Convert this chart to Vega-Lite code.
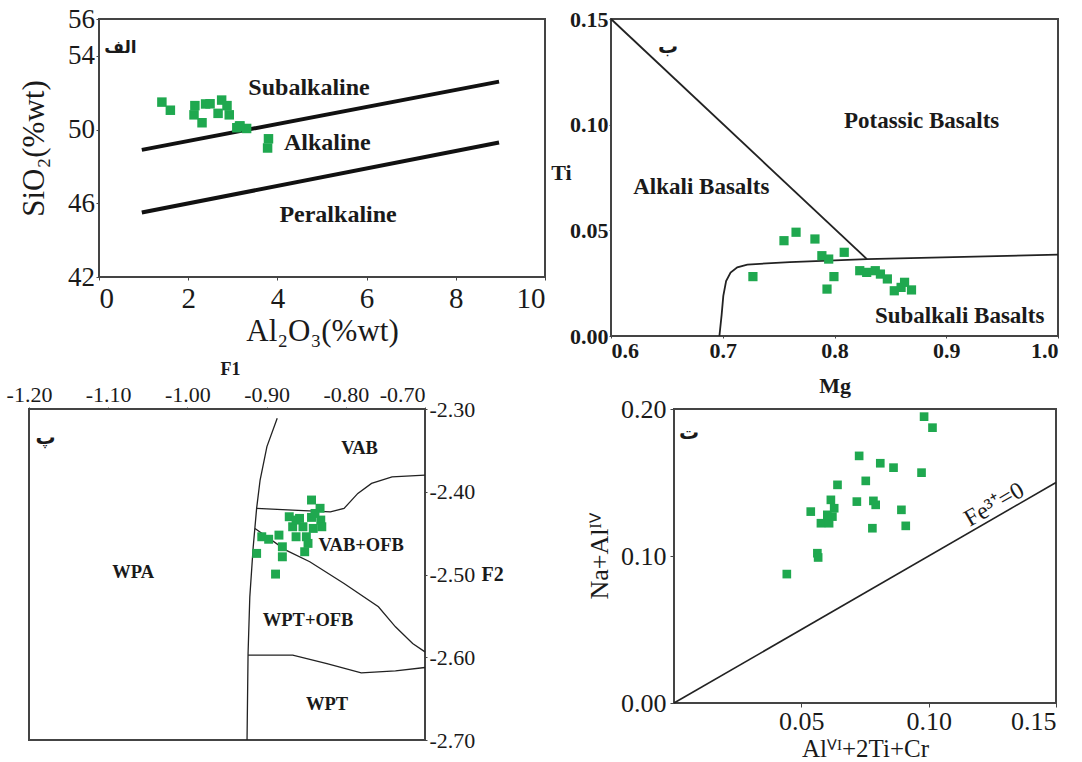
{
  "$schema": "https://vega.github.io/schema/vega-lite/v6.json",
  "padding": {"left": 5, "top": 4, "right": 0, "bottom": 0},
  "background": "white",
  "config": {
    "font": "Liberation Serif",
    "view": {"stroke": "#444", "strokeWidth": 2},
    "axis": {"grid": false, "domain": false, "labelFont": "Liberation Serif", "titleFont": "Liberation Serif", "labelColor": "#1a1a1a", "titleColor": "#1a1a1a", "tickColor": "#444", "titleFontWeight": "normal", "labelOverlap": false},
    "text": {"font": "Liberation Serif", "color": "#1a1a1a"}
  },
  "datasets": {
    "aLines": [
      {"seg": 1, "o": 1, "x": 0.96, "y": 48.9}, {"seg": 1, "o": 2, "x": 8.97, "y": 52.6},
      {"seg": 2, "o": 1, "x": 0.96, "y": 45.5}, {"seg": 2, "o": 2, "x": 8.97, "y": 49.3}
    ],
    "aPts": [
      {"x": 1.41, "y": 51.49}, {"x": 1.6, "y": 51.05}, {"x": 2.15, "y": 51.3}, {"x": 2.39, "y": 51.39},
      {"x": 2.13, "y": 50.8}, {"x": 2.31, "y": 50.37}, {"x": 2.49, "y": 51.4}, {"x": 2.67, "y": 50.88},
      {"x": 2.75, "y": 51.6}, {"x": 2.87, "y": 51.3}, {"x": 2.92, "y": 50.8}, {"x": 3.16, "y": 50.2},
      {"x": 3.31, "y": 50.06}, {"x": 3.09, "y": 50.1}, {"x": 3.15, "y": 50.18}, {"x": 3.8, "y": 49.5},
      {"x": 3.78, "y": 49.0}
    ],
    "aText": [
      {"x": 4.71, "y": 52.25, "label": "Subalkaline"},
      {"x": 5.12, "y": 49.26, "label": "Alkaline"},
      {"x": 5.36, "y": 45.35, "label": "Peralkaline"}
    ],
    "aTag": [{"x": 0.48, "y": 54.43, "label": "الف"}],
    "bLines": [
      {"seg": 1, "o": 1, "x": 0.6, "y": 0.15}, {"seg": 1, "o": 2, "x": 0.829, "y": 0.0364},
      {"seg": 2, "o": 1, "x": 0.697, "y": 0.0}, {"seg": 2, "o": 2, "x": 0.699, "y": 0.01},
      {"seg": 2, "o": 3, "x": 0.7005, "y": 0.019}, {"seg": 2, "o": 4, "x": 0.703, "y": 0.026},
      {"seg": 2, "o": 5, "x": 0.707, "y": 0.03}, {"seg": 2, "o": 6, "x": 0.713, "y": 0.0325},
      {"seg": 2, "o": 7, "x": 0.722, "y": 0.0338}, {"seg": 2, "o": 8, "x": 0.76, "y": 0.035},
      {"seg": 2, "o": 9, "x": 0.829, "y": 0.0364}, {"seg": 2, "o": 10, "x": 1.0, "y": 0.0385}
    ],
    "bPts": [
      {"x": 0.7548, "y": 0.0451}, {"x": 0.7656, "y": 0.0491}, {"x": 0.7825, "y": 0.0459},
      {"x": 0.7887, "y": 0.038}, {"x": 0.7948, "y": 0.0364}, {"x": 0.8087, "y": 0.0396},
      {"x": 0.727, "y": 0.0281}, {"x": 0.7995, "y": 0.0281}, {"x": 0.7933, "y": 0.0222},
      {"x": 0.8226, "y": 0.0309}, {"x": 0.8288, "y": 0.0301}, {"x": 0.8365, "y": 0.0309},
      {"x": 0.8411, "y": 0.0293}, {"x": 0.8473, "y": 0.027}, {"x": 0.8535, "y": 0.0214},
      {"x": 0.8596, "y": 0.023}, {"x": 0.8627, "y": 0.0254}, {"x": 0.8689, "y": 0.0218}
    ],
    "bText": [
      {"x": 0.878, "y": 0.1019, "label": "Potassic Basalts"},
      {"x": 0.6808, "y": 0.0704, "label": "Alkali Basalts"},
      {"x": 0.912, "y": 0.0096, "label": "Subalkali Basalts"}
    ],
    "bTag": [{"x": 0.651, "y": 0.1368, "label": "ب"}],
    "cLines": [
      {"seg": 1, "o": 1, "x": -0.8866, "y": -2.3112}, {"seg": 1, "o": 2, "x": -0.8996, "y": -2.3455},
      {"seg": 1, "o": 3, "x": -0.9082, "y": -2.3858}, {"seg": 1, "o": 4, "x": -0.9126, "y": -2.4201},
      {"seg": 1, "o": 5, "x": -0.9169, "y": -2.4665}, {"seg": 1, "o": 6, "x": -0.9212, "y": -2.527},
      {"seg": 1, "o": 7, "x": -0.9234, "y": -2.5955}, {"seg": 1, "o": 8, "x": -0.9247, "y": -2.7},
      {"seg": 2, "o": 1, "x": -0.9126, "y": -2.4201}, {"seg": 2, "o": 2, "x": -0.867, "y": -2.4221},
      {"seg": 2, "o": 3, "x": -0.8195, "y": -2.4242}, {"seg": 2, "o": 4, "x": -0.8022, "y": -2.4201},
      {"seg": 2, "o": 5, "x": -0.7848, "y": -2.402}, {"seg": 2, "o": 6, "x": -0.7675, "y": -2.3899},
      {"seg": 2, "o": 7, "x": -0.7416, "y": -2.3819}, {"seg": 2, "o": 8, "x": -0.7, "y": -2.3798},
      {"seg": 3, "o": 1, "x": -0.9147, "y": -2.4443}, {"seg": 3, "o": 2, "x": -0.8757, "y": -2.4705},
      {"seg": 3, "o": 3, "x": -0.8455, "y": -2.4846}, {"seg": 3, "o": 4, "x": -0.8022, "y": -2.5108},
      {"seg": 3, "o": 5, "x": -0.7588, "y": -2.539}, {"seg": 3, "o": 6, "x": -0.7373, "y": -2.5632},
      {"seg": 3, "o": 7, "x": -0.7156, "y": -2.5833}, {"seg": 3, "o": 8, "x": -0.7, "y": -2.5935},
      {"seg": 4, "o": 1, "x": -0.9234, "y": -2.5975}, {"seg": 4, "o": 2, "x": -0.867, "y": -2.5975},
      {"seg": 4, "o": 3, "x": -0.8238, "y": -2.6076}, {"seg": 4, "o": 4, "x": -0.7805, "y": -2.6189},
      {"seg": 4, "o": 5, "x": -0.7373, "y": -2.6165}, {"seg": 4, "o": 6, "x": -0.7, "y": -2.6124}
    ],
    "cPts": [
      {"x": -0.8433, "y": -2.41}, {"x": -0.8325, "y": -2.42}, {"x": -0.8714, "y": -2.4302},
      {"x": -0.8584, "y": -2.4322}, {"x": -0.8433, "y": -2.431}, {"x": -0.8316, "y": -2.4342},
      {"x": -0.8671, "y": -2.4423}, {"x": -0.8541, "y": -2.4423}, {"x": -0.8411, "y": -2.4443},
      {"x": -0.8303, "y": -2.4423}, {"x": -0.8628, "y": -2.4544}, {"x": -0.8498, "y": -2.4544},
      {"x": -0.8477, "y": -2.4624}, {"x": -0.8519, "y": -2.4725}, {"x": -0.9061, "y": -2.4544},
      {"x": -0.8974, "y": -2.4574}, {"x": -0.8844, "y": -2.4524}, {"x": -0.9126, "y": -2.4745},
      {"x": -0.8801, "y": -2.4665}, {"x": -0.8801, "y": -2.4786}, {"x": -0.8887, "y": -2.4995},
      {"x": -0.8628, "y": -2.4342}, {"x": -0.8389, "y": -2.4262}
    ],
    "cText": [
      {"x": -0.7827, "y": -2.3475, "label": "VAB"},
      {"x": -0.7805, "y": -2.4645, "label": "VAB+OFB"},
      {"x": -1.0684, "y": -2.4967, "label": "WPA"},
      {"x": -0.8476, "y": -2.5552, "label": "WPT+OFB"},
      {"x": -0.8238, "y": -2.6559, "label": "WPT"}
    ],
    "cTag": [{"x": -1.179, "y": -2.335, "label": "پ"}],
    "dLines": [
      {"seg": 1, "o": 1, "x": 0.0, "y": 0.0}, {"seg": 1, "o": 2, "x": 0.15, "y": 0.15}
    ],
    "dPts": [
      {"x": 0.0443, "y": 0.0877}, {"x": 0.0537, "y": 0.1302}, {"x": 0.0563, "y": 0.1019},
      {"x": 0.0566, "y": 0.099}, {"x": 0.0577, "y": 0.1223}, {"x": 0.0609, "y": 0.1223},
      {"x": 0.0616, "y": 0.1382}, {"x": 0.0629, "y": 0.1325}, {"x": 0.0622, "y": 0.1268},
      {"x": 0.0642, "y": 0.1484}, {"x": 0.0718, "y": 0.137}, {"x": 0.0727, "y": 0.1681},
      {"x": 0.0753, "y": 0.1511}, {"x": 0.0783, "y": 0.1375}, {"x": 0.0792, "y": 0.1348},
      {"x": 0.0779, "y": 0.1189}, {"x": 0.081, "y": 0.1631}, {"x": 0.0862, "y": 0.1601},
      {"x": 0.0893, "y": 0.1314}, {"x": 0.091, "y": 0.1205}, {"x": 0.0972, "y": 0.1567},
      {"x": 0.0982, "y": 0.1948}, {"x": 0.1015, "y": 0.1873}, {"x": 0.0602, "y": 0.128}
    ],
    "dText": [{"x": 0.1258, "y": 0.1348, "label": "Fe³⁺=0"}],
    "dTag": [{"x": 0.0059, "y": 0.1837, "label": "ت"}],
    "spacer": [{"v": 0}]
  },
  "vconcat": [
    {
      "hconcat": [
        {
          "hconcat": [
            {
              "width": 1, "height": 1,
              "view": {"stroke": null},
              "data": {"name": "spacer"},
              "mark": {"type": "point", "opacity": 0, "size": 1, "filled": true},
              "encoding": {}
            },
            {
              "width": 446, "height": 258,
              "encoding": {
                "x": {"field": "x", "type": "quantitative", "scale": {"domain": [0, 10], "nice": false, "zero": false},
                      "axis": {"values": [0, 2, 4, 6, 8, 10], "title": "Al₂O₃(%wt)", "labelFontSize": 29, "titleFontSize": 31, "tickSize": 3, "labelPadding": 4, "titlePadding": 3}},
                "y": {"field": "y", "type": "quantitative", "scale": {"domain": [42, 56], "nice": false, "zero": false},
                      "axis": {"values": [42, 46, 50, 54, 56], "title": "SiO₂(%wt)", "labelFontSize": 27, "titleFontSize": 31, "tickSize": 3, "labelPadding": 1.5, "titlePadding": 17}}
              },
              "layer": [
                {"data": {"name": "aLines"}, "mark": {"type": "line", "color": "#111", "strokeWidth": 4},
                 "encoding": {"detail": {"field": "seg", "type": "nominal"}, "order": {"field": "o", "type": "quantitative"}}},
                {"data": {"name": "aPts"}, "mark": {"type": "square", "color": "#1fa84f", "size": 90, "opacity": 1}},
                {"data": {"name": "aText"}, "mark": {"type": "text", "fontSize": 24, "fontWeight": "bold", "align": "center", "baseline": "middle"},
                 "encoding": {"text": {"field": "label", "type": "nominal"}}},
                {"data": {"name": "aTag"}, "mark": {"type": "text", "font": "DejaVu Sans", "fontSize": 17, "fontWeight": "bold", "align": "center", "baseline": "middle"},
                 "encoding": {"text": {"field": "label", "type": "nominal"}}}
              ]
            }
          ],
          "spacing": -13
        },
        {
          "width": 447, "height": 317,
          "encoding": {
            "x": {"field": "x", "type": "quantitative", "scale": {"domain": [0.6, 1.0], "nice": false, "zero": false},
                  "axis": {"values": [0.6, 0.7, 0.8, 0.9, 1.0], "format": ".1f", "title": "Mg", "titleFontWeight": "bold", "labelFontWeight": "bold", "labelFontSize": 22, "titleFontSize": 22, "tickSize": 2, "labelPadding": 2, "titlePadding": 14}},
            "y": {"field": "y", "type": "quantitative", "scale": {"domain": [0, 0.15], "nice": false, "zero": false},
                  "axis": {"values": [0, 0.05, 0.1, 0.15], "format": ".2f", "title": "Ti", "titleFontWeight": "bold", "labelFontWeight": "bold", "titleAngle": 0, "titleX": -50, "titleY": 153, "titleAlign": "center", "titleBaseline": "middle", "labelFontSize": 22, "titleFontSize": 22, "tickSize": 2, "labelPadding": 1}}
          },
          "layer": [
            {"data": {"name": "bLines"}, "mark": {"type": "line", "color": "#222", "strokeWidth": 1.8},
             "encoding": {"detail": {"field": "seg", "type": "nominal"}, "order": {"field": "o", "type": "quantitative"}}},
            {"data": {"name": "bPts"}, "mark": {"type": "square", "color": "#1fa84f", "size": 85, "opacity": 1}},
            {"data": {"name": "bText"}, "mark": {"type": "text", "fontSize": 23, "fontWeight": "bold", "align": "center", "baseline": "middle"},
             "encoding": {"text": {"field": "label", "type": "nominal"}}},
            {"data": {"name": "bTag"}, "mark": {"type": "text", "font": "DejaVu Sans", "fontSize": 20, "fontWeight": "bold", "align": "center", "baseline": "middle"},
             "encoding": {"text": {"field": "label", "type": "nominal"}}}
          ]
        }
      ],
      "spacing": 2
    },
    {
      "hconcat": [
        {
          "width": 396, "height": 331,
          "encoding": {
            "x": {"field": "x", "type": "quantitative", "scale": {"domain": [-1.2, -0.7], "nice": false, "zero": false},
                  "axis": {"orient": "top", "values": [-1.2, -1.1, -1.0, -0.9, -0.8, -0.7], "format": ".2f",
                           "labelExpr": "replace(datum.label, '\u2212', '-')",
                           "labelAlign": {"condition": {"test": "datum.value > -0.705", "value": "right"}, "value": "center"},
                           "title": "F1", "titleFontWeight": "bold", "titleX": 201, "labelFontSize": 22, "titleFontSize": 18, "tickSize": 2, "labelPadding": 1, "titlePadding": 5}},
            "y": {"field": "y", "type": "quantitative", "scale": {"domain": [-2.7, -2.3], "nice": false, "zero": false},
                  "axis": {"orient": "right", "values": [-2.7, -2.6, -2.5, -2.4, -2.3], "format": ".2f",
                           "labelExpr": "replace(datum.label, '\u2212', '-')",
                           "title": "F2", "titleFontWeight": "bold", "titleAngle": 0, "titleX": 56, "titleY": 165.5, "titleAlign": "left", "titleBaseline": "middle",
                           "labelFontSize": 22, "titleFontSize": 20, "tickSize": 2, "labelPadding": 2}}
          },
          "layer": [
            {"data": {"name": "cLines"}, "mark": {"type": "line", "color": "#222", "strokeWidth": 1.3},
             "encoding": {"detail": {"field": "seg", "type": "nominal"}, "order": {"field": "o", "type": "quantitative"}}},
            {"data": {"name": "cPts"}, "mark": {"type": "square", "color": "#1fa84f", "size": 80, "opacity": 1}},
            {"data": {"name": "cText"}, "mark": {"type": "text", "fontSize": 18.5, "fontWeight": "bold", "align": "center", "baseline": "middle"},
             "encoding": {"text": {"field": "label", "type": "nominal"}}},
            {"data": {"name": "cTag"}, "mark": {"type": "text", "font": "DejaVu Sans", "fontSize": 20, "fontWeight": "bold", "align": "center", "baseline": "middle"},
             "encoding": {"text": {"field": "label", "type": "nominal"}}}
          ]
        },
        {
          "width": 382, "height": 294,
          "encoding": {
            "x": {"field": "x", "type": "quantitative", "scale": {"domain": [0, 0.15], "nice": false, "zero": false},
                  "axis": {"values": [0.05, 0.1, 0.15], "format": ".2f", "title": "Alⱽᴵ+2Ti+Cr", "labelFontSize": 26, "titleFontSize": 25, "tickSize": 4, "labelPadding": 1, "titlePadding": 2}},
            "y": {"field": "y", "type": "quantitative", "scale": {"domain": [0, 0.2], "nice": false, "zero": false},
                  "axis": {"values": [0, 0.1, 0.2], "format": ".2f", "title": "Na+Alᴵⱽ", "labelFontSize": 26, "titleFontSize": 26, "tickSize": 4, "labelPadding": 4, "titlePadding": 8}}
          },
          "layer": [
            {"data": {"name": "dLines"}, "mark": {"type": "line", "color": "#222", "strokeWidth": 1.6},
             "encoding": {"detail": {"field": "seg", "type": "nominal"}, "order": {"field": "o", "type": "quantitative"}}},
            {"data": {"name": "dPts"}, "mark": {"type": "square", "color": "#1fa84f", "size": 75, "opacity": 1}},
            {"data": {"name": "dText"}, "mark": {"type": "text", "fontSize": 24, "angle": -30, "align": "center", "baseline": "middle"},
             "encoding": {"text": {"field": "label", "type": "nominal"}}},
            {"data": {"name": "dTag"}, "mark": {"type": "text", "font": "DejaVu Sans", "fontSize": 20, "fontWeight": "bold", "align": "center", "baseline": "middle"},
             "encoding": {"text": {"field": "label", "type": "nominal"}}}
          ]
        }
      ],
      "spacing": 80
    }
  ],
  "spacing": -38
}
